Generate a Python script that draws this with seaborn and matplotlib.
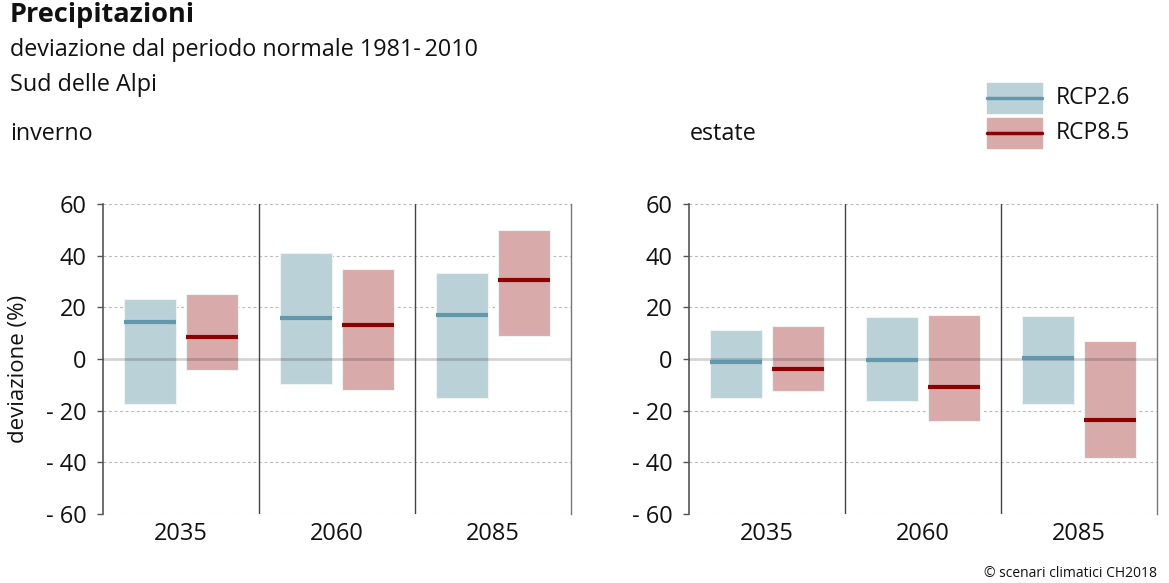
import matplotlib
matplotlib.use("Agg")
import matplotlib.pyplot as plt
from matplotlib.patches import Rectangle
from matplotlib.lines import Line2D
import numpy as np
import pandas as pd
import seaborn as sns

# ---------------- data (deviation in %) ----------------
periods = ["2035", "2060", "2085"]
scenarios = ["RCP2.6", "RCP8.5"]

# inverno
win_rcp26_low = [-17.4, -9.8, -15.2]
win_rcp26_med = [14.2, 16.0, 16.9]
win_rcp26_high = [23.1, 40.9, 33.4]
win_rcp85_low = [-4.4, -12.0, 9.0]
win_rcp85_med = [8.6, 13.3, 30.7]
win_rcp85_high = [25.0, 34.7, 49.8]

# estate
sum_rcp26_low = [-15.1, -16.4, -17.4]
sum_rcp26_med = [-1.2, -0.4, 0.3]
sum_rcp26_high = [11.2, 16.4, 16.8]
sum_rcp85_low = [-12.4, -24.1, -38.2]
sum_rcp85_med = [-3.9, -10.8, -23.6]
sum_rcp85_high = [12.6, 17.0, 7.1]

yticks = [-60, -40, -20, 0, 20, 40, 60]

# ---------------- style ----------------
sns.set_theme(style="white")
plt.rcParams['font.family'] = ['Open Sans', 'DejaVu Sans']
plt.rcParams['text.color'] = '#111111'
plt.rcParams['xtick.color'] = '#111111'
plt.rcParams['ytick.color'] = '#111111'
plt.rcParams['axes.labelcolor'] = '#111111'

fill_col = {"RCP2.6": "#bad1d8", "RCP8.5": "#d9aaaa"}
line_col = {"RCP2.6": "#6397ab", "RCP8.5": "#8b0000"}
offset = {"RCP2.6": -0.2, "RCP8.5": 0.2}
bar_w = 0.333


def make_frame(r26, r85):
    rows = []
    for scen, (lo, me, hi) in zip(scenarios, [r26, r85]):
        for i, p in enumerate(periods):
            rows.append(dict(period=p, idx=i, scenario=scen, low=lo[i], med=me[i], high=hi[i]))
    return pd.DataFrame(rows)


winter = make_frame((win_rcp26_low, win_rcp26_med, win_rcp26_high),
                    (win_rcp85_low, win_rcp85_med, win_rcp85_high))
summer = make_frame((sum_rcp26_low, sum_rcp26_med, sum_rcp26_high),
                    (sum_rcp85_low, sum_rcp85_med, sum_rcp85_high))


def draw_panel(ax, df):
    # grid
    for v in yticks:
        if v == 0:
            ax.axhline(0, color="black", alpha=0.17, lw=2, zorder=3)
        else:
            ax.axhline(v, color="#b8b8b8", lw=0.8, ls=(0, (2.5, 2.5)), zorder=0)
    for scen in scenarios:
        sub = df[df.scenario == scen]
        xs = sub.idx.values + offset[scen]
        ax.bar(xs, sub.high.values - sub.low.values, bottom=sub.low.values,
               width=bar_w, color=fill_col[scen], edgecolor="#eef3f4", lw=0.8, zorder=2)
        ax.hlines(sub.med.values, xs - bar_w / 2, xs + bar_w / 2,
                  color=line_col[scen], lw=3, zorder=4)
    for xv in [0.5, 1.5]:
        ax.axvline(xv, color="#444444", lw=1, zorder=1)
    ax.set_xlim(-0.5, 2.5)
    ax.set_ylim(-60, 60)
    ax.set_xticks(range(len(periods)))
    ax.set_xticklabels(periods, fontsize=17)
    ax.set_yticks(yticks)
    ax.set_yticklabels([f"- {abs(v)}" if v < 0 else str(v) for v in yticks], fontsize=17)
    ax.tick_params(axis="y", length=4, width=1, color="#555555", pad=8, direction="out", left=True)
    ax.tick_params(axis="x", length=0, pad=6)
    for s in ["top", "bottom"]:
        ax.spines[s].set_visible(False)
    ax.spines["left"].set_color("#555555")
    ax.spines["right"].set_color("#777777")
    ax.spines["left"].set_linewidth(1.2)
    ax.spines["right"].set_linewidth(1)
    ax.set_xlabel("")
    ax.set_ylabel("")


fig = plt.figure(figsize=(11.69, 5.83), dpi=100)
W, H = 1169, 583
ax1 = fig.add_axes([103 / W, (H - 514) / H, 468 / W, 310 / H])
ax2 = fig.add_axes([689 / W, (H - 514) / H, 468 / W, 310 / H])
draw_panel(ax1, winter)
draw_panel(ax2, summer)
fig.text(19 / W, 1 - 369 / H, "deviazione (%)", fontsize=16, rotation=90,
         ha="center", va="center")

# titles
fig.text(10 / W, 1 - 22 / H, "Precipitazioni", fontsize=19.5, fontweight="bold", va="baseline")
fig.text(10 / W, 1 - 56 / H, "deviazione dal periodo normale 1981-\u20092010", fontsize=16.8, va="baseline")
fig.text(10 / W, 1 - 91 / H, "Sud delle Alpi", fontsize=16.8, va="baseline")
fig.text(10 / W, 1 - 140 / H, "inverno", fontsize=16.8, va="baseline")
fig.text(690 / W, 1 - 140 / H, "estate", fontsize=16.8, va="baseline")
fig.text(1157 / W, 1 - 577 / H, "\u00a9 scenari climatici CH2018", fontsize=10,
         ha="right", va="baseline")

# legend
for k, scen in enumerate(scenarios):
    top = 83 + k * 35
    fig.patches.append(Rectangle((987 / W, 1 - (top + 30) / H), 55 / W, 30 / H,
                                 transform=fig.transFigure, color=fill_col[scen]))
    fig.lines.append(Line2D([987 / W, 1042 / W], [1 - (top + 15) / H] * 2,
                            transform=fig.transFigure, color=line_col[scen], lw=2.5))
    fig.text(1056 / W, 1 - (top + 15) / H, scen, fontsize=16.5, va="center")

fig.savefig("out.png", dpi=100)
